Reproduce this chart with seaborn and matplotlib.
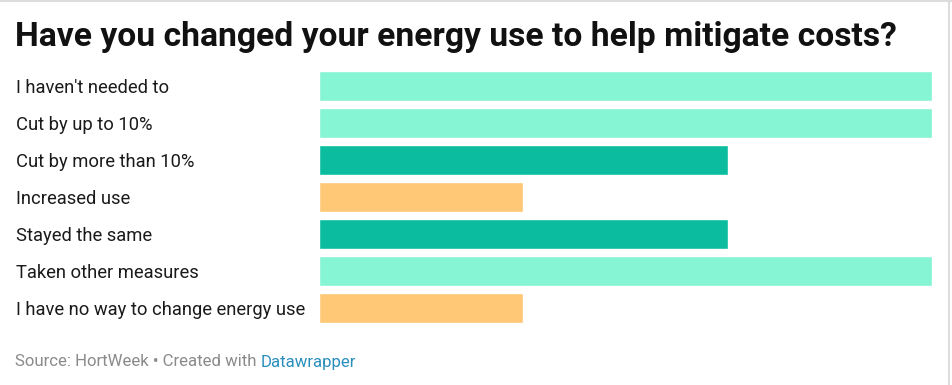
import pandas as pd
import matplotlib.pyplot as plt
import seaborn as sns
from matplotlib.lines import Line2D

# data
answers = [
    "I haven't needed to",
    "Cut by up to 10%",
    "Cut by more than 10%",
    "Increased use",
    "Stayed the same",
    "Taken other measures",
    "I have no way to change energy use",
]
scores = [3, 3, 2, 1, 2, 3, 1]
bar_colors = ["#86F5D3", "#86F5D3", "#0BBC9F", "#FFC876", "#0BBC9F", "#86F5D3", "#FFC876"]

df = pd.DataFrame({"answer": answers, "score": scores})

sns.set_theme(style="white")
plt.rcParams["font.family"] = ["Roboto", "DejaVu Sans"]

fig = plt.figure(figsize=(9.52, 3.85), dpi=100)
ax = fig.add_axes([318.5 / 952, 1 - 326.5 / 385, (932 - 318.5) / 952, 259 / 385])

sns.barplot(data=df, y="answer", x="score", hue="answer", palette=bar_colors,
            order=answers, legend=False, width=0.82, saturation=1, ax=ax)

ax.set_xlim(0, 3)
ax.set_ylim(6.5, -0.5)
ax.set_xlabel("")
ax.set_ylabel("")
ax.set_xticks([])
sns.despine(ax=ax, left=True, bottom=True)

# row labels flush left
ax.tick_params(axis="y", length=0, pad=(318.5 - 16) * 0.72, labelsize=13.2, labelcolor="#1a1a1a")
for lab in ax.get_yticklabels():
    lab.set_ha("left")

fig.text(15 / 952, 1 - 37 / 385, "Have you changed your energy use to help mitigate costs?",
         fontsize=24.2, fontweight="bold", color="#111111", va="center", ha="left")

src = fig.text(15 / 952, 1 - 362 / 385, "Source: HortWeek \u2022 Created with ",
               fontsize=12.1, color="#8a8a8a", va="center", ha="left")
ax.annotate("Datawrapper", xy=(1, 0), xycoords=src, va="bottom", ha="left",
            fontsize=12.1, color="#2a8fbd")

# thin frame lines seen at top and right of the screenshot
fig.add_artist(Line2D([0, 1], [0.998, 0.998], color="#dddddd", lw=1.5, transform=fig.transFigure))
fig.add_artist(Line2D([949 / 952, 949 / 952], [0, 1], color="#dddddd", lw=1.5, transform=fig.transFigure))

fig.savefig("out.png", dpi=100, facecolor="white")
